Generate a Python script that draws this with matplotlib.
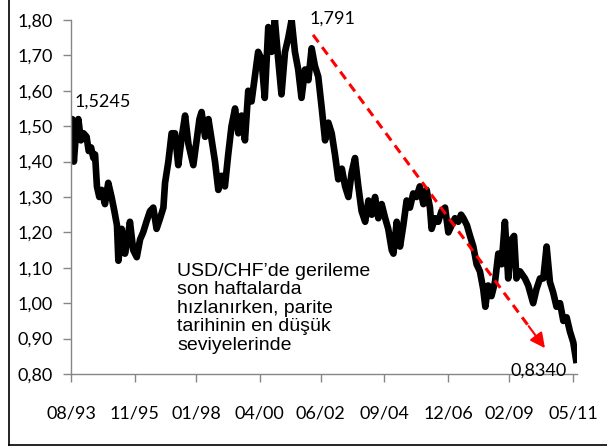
import matplotlib.pyplot as plt
from matplotlib.lines import Line2D

# USD/CHF, months counted from 08/1993
months = [0, 0.5, 1.2, 2, 3.1, 4.2, 5.3, 6.6, 7.5, 8.5, 9.5, 10.2, 11, 12, 13, 14.4,
          15.8, 17.2, 18.4, 19.5, 20.1, 20.8, 21.5, 22.9, 24, 25, 26.4, 27.9, 29.3,
          30.6, 32, 33.5, 34.9, 36.3, 37.8, 39.2, 39.9, 41.3, 42.7, 44.1, 45.5, 47,
          48.4, 49.8, 51.9, 53.3, 54.5, 55.4, 56.9, 58.3, 59.7, 61.1, 62.5, 63.9,
          65.3, 66.7, 68.1, 69.6, 71, 72.4, 73.8, 75.2, 76.6, 78, 79.4, 80.8, 82.2,
          83.7, 85.1, 86.5, 87.9, 89.3, 90.8, 92.2, 93.6, 95, 96.4, 97.8, 99.3,
          100.7, 102.1, 103.5, 104.9, 106.4, 107.8, 109.2, 110.6, 112, 113.4, 114.9,
          116.3, 117.7, 119.1, 120.5, 121.9, 123.3, 124.8, 126.2, 127.6, 129, 130.4,
          131.8, 133.3, 134.6, 136.1, 136.8, 138.2, 139.6, 141, 142.4, 143.8, 145.2,
          146.6, 148, 149.5, 150.9, 152.3, 153, 154.4, 155.8, 157.2, 158.7, 160.1,
          161.5, 162.9, 164.3, 165.5, 166.5, 168, 169.3, 170.7, 172.1, 173.5, 174.9,
          175.8, 177, 178.4, 179.9, 181.3, 182.7, 184.1, 185.5, 186.9, 188, 189,
          190.5, 192.6, 194, 196.1, 197.5, 199, 200.4, 201.8, 203.2, 204.6, 206,
          207.5, 208.9, 210.3, 211.7, 213.1, 214.3]
usdchf = [1.50, 1.52, 1.40, 1.47, 1.52, 1.46, 1.48, 1.47, 1.43, 1.44, 1.41, 1.42, 1.33,
          1.30, 1.32, 1.28, 1.34, 1.30, 1.26, 1.22, 1.12, 1.16, 1.21, 1.14, 1.18, 1.23,
          1.15, 1.13, 1.18, 1.20, 1.23, 1.26, 1.27, 1.21, 1.24, 1.27, 1.34, 1.40, 1.48,
          1.48, 1.39, 1.47, 1.53, 1.45, 1.39, 1.46, 1.52, 1.54, 1.47, 1.52, 1.46, 1.40,
          1.32, 1.36, 1.33, 1.42, 1.50, 1.55, 1.48, 1.53, 1.46, 1.60, 1.57, 1.64, 1.71,
          1.69, 1.58, 1.78, 1.71, 1.80, 1.69, 1.59, 1.71, 1.75, 1.80, 1.71, 1.66, 1.58,
          1.66, 1.63, 1.72, 1.67, 1.64, 1.55, 1.46, 1.51, 1.48, 1.42, 1.35, 1.38, 1.33,
          1.30, 1.37, 1.41, 1.33, 1.26, 1.23, 1.29, 1.25, 1.30, 1.24, 1.28, 1.24, 1.21,
          1.15, 1.14, 1.23, 1.16, 1.22, 1.29, 1.27, 1.31, 1.30, 1.33, 1.28, 1.32, 1.27,
          1.21, 1.24, 1.23, 1.26, 1.27, 1.20, 1.22, 1.24, 1.23, 1.25, 1.24, 1.22, 1.19,
          1.16, 1.11, 1.09, 1.04, 0.99, 1.05, 1.02, 1.06, 1.14, 1.11, 1.23, 1.07, 1.18,
          1.19, 1.07, 1.09, 1.07, 1.05, 1.00, 1.04, 1.07, 1.07, 1.16, 1.06, 1.03, 0.99,
          1.00, 0.95, 0.96, 0.92, 0.89, 0.84]

tick_months = [0, 27, 53, 80, 106, 133, 160, 186, 213]
tick_labels = ['08/93', '11/95', '01/98', '04/00', '06/02', '09/04', '12/06', '02/09', '05/11']
y_ticks = [0.8, 0.9, 1.0, 1.1, 1.2, 1.3, 1.4, 1.5, 1.6, 1.7, 1.8]

# trend arrow from the top towards the latest low
trend_start = (102.7, 1.758)
trend_end = (201.1, 0.873)

note = "USD/CHF\u2019de gerileme\nson haftalarda\nh\u0131zlan\u0131rken, parite\ntarihinin en d\u00fc\u015f\u00fck\nseviyelerinde"

plt.rcParams['font.family'] = ['Lato', 'DejaVu Sans']
fig = plt.figure(figsize=(6.07, 4.46), dpi=100)
ax = fig.add_axes([0.117, 0.1614, 0.8336, 0.7938])

ax.plot(months, usdchf, color='black', linewidth=4.8, solid_joinstyle='round')

# dashed trend line + arrow head
frac = 0.93
hx = trend_start[0] + frac * (trend_end[0] - trend_start[0])
hy = trend_start[1] + frac * (trend_end[1] - trend_start[1])
ax.plot([trend_start[0], hx], [trend_start[1], hy], color='red', linewidth=2.2,
        dashes=(3, 2))
ax.annotate('', xy=trend_end, xytext=(hx, hy),
            arrowprops=dict(arrowstyle='-|>,head_length=0.9,head_width=0.45',
                            color='red', lw=1.5, shrinkA=0, shrinkB=0))

ax.text(1.5, 1.568, '1,5245', fontsize=13, va='center', ha='left')
ax.text(101, 1.805, '1,791', fontsize=13, va='center', ha='left')
ax.text(186.5, 0.81, '0,8340', fontsize=13, va='center', ha='left')
ax.text(45, 0.986, note, family='Liberation Sans', fontsize=14, va='center',
        ha='left', linespacing=1.12)

ax.set_xlim(0, 214.7)
ax.set_ylim(0.8, 1.8)
ax.set_xticks(tick_months)
ax.set_xticklabels(tick_labels)
ax.set_yticks(y_ticks)
ax.set_yticklabels([('%.2f' % v).replace('.', ',') for v in y_ticks])
ax.tick_params(axis='both', labelsize=13, color='#868686', length=6, width=1)
ax.tick_params(axis='x', pad=17, length=6)
ax.tick_params(axis='y', pad=7)
for s in ['top', 'right']:
    ax.spines[s].set_visible(False)
for s in ['left', 'bottom']:
    ax.spines[s].set_color('#868686')
    ax.spines[s].set_linewidth(1)

# outer frame (left and bottom edges)
fig.add_artist(Line2D([0.0148, 0.0148], [0.0, 1.0], color='black', linewidth=1.2))
fig.add_artist(Line2D([0.0148, 1.0], [0.0022, 0.0022], color='black', linewidth=1.2))

fig.savefig('out.png', dpi=100)
